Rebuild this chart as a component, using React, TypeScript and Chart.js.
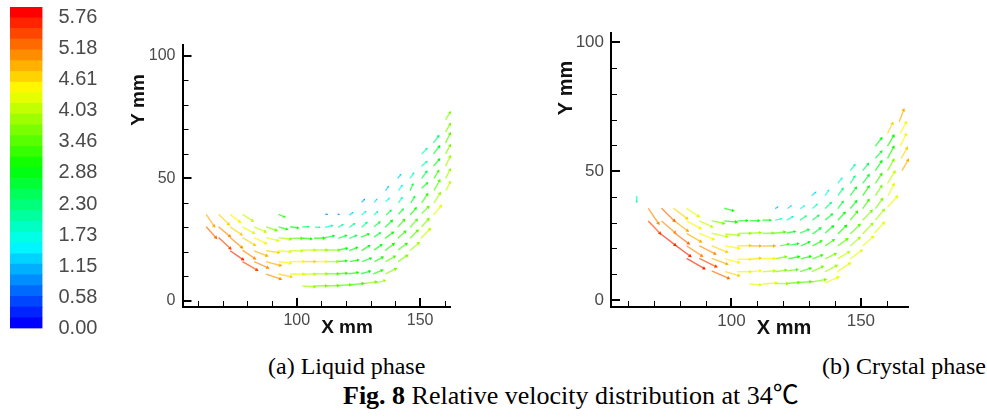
import React, { useEffect, useRef } from "react";
import { Chart, registerables } from "chart.js";

Chart.register(...registerables);

const BAND_COLORS = [
  "#0000ff", "#0023ff", "#0046ff", "#006aff", "#008dff", "#00b0ff", "#00d3ff", "#00f6ff", "#00ffe5", "#00ffc2",
  "#00ff9e", "#00ff7b", "#00ff58", "#00ff35", "#00ff12", "#12ff00", "#35ff00", "#58ff00", "#7bff00", "#9eff00",
  "#c2ff00", "#e5ff00", "#fff600", "#ffd300", "#ffb000", "#ff8d00", "#ff6a00", "#ff4600", "#ff2300", "#ff0000",
];
const LEGEND_TICKS = [0, 0.576, 1.152, 1.728, 2.304, 2.88, 3.456, 4.032, 4.608, 5.184, 5.76];
const LEGEND_LABELS = ["0.00", "0.58", "1.15", "1.73", "2.30", "2.88", "3.46", "4.03", "4.61", "5.18", "5.76"];
const LEGEND_MAX = 5.95;

const X_TICKS = [60, 70, 80, 90, 100, 110, 120, 130, 140, 150, 160];
const Y_TICKS = [0, 10, 20, 30, 40, 50, 60, 70, 80, 90, 100];

// [x, y, dx, dy, magnitude]
type Arrow = [number, number, number, number, number];
const liquidArrows: Arrow[] = [
  [63.3, 35.3, 3.2, -4.8, 4.9], [63.3, 30.2, 3.9, -4.4, 5.3], [68.3, 35.3, 4.1, -4, 4.7], [68.3, 30.2, 4.5, -3.8, 5],
  [68.3, 25.8, 4.7, -4.4, 5.4], [73, 35.3, 3.8, -3, 4.4], [73, 30.2, 4.5, -3.1, 4.7], [73, 25.8, 4.7, -4, 5],
  [73, 20.4, 5.1, -3.5, 5.7], [78, 35.3, 4, -2.6, 4.1], [78, 30.2, 4.5, -2.5, 4.3], [78, 25.8, 4.9, -3, 4.7],
  [78, 20.7, 4.9, -3.4, 5], [78, 16, 5.8, -3.4, 5.5], [82.7, 30.2, 4.5, -2, 4.1], [82.7, 25.8, 4.7, -2.3, 4.5],
  [82.7, 20.4, 5.1, -2, 4.8], [82.7, 16, 5.5, -2.5, 5.1], [87.6, 30.2, 4, -1.4, 3.7], [87.6, 25.8, 4.7, -1.2, 4.2],
  [87.6, 20.4, 5, -0.7, 4.6], [87.6, 16, 5.7, -1.6, 4.8], [87.6, 10.9, 5.7, -2, 5.1], [92.6, 35.3, 2.4, -1, 3],
  [92.6, 30.2, 3.4, -1, 3], [92.6, 25.8, 4.7, -0.7, 3.9], [92.6, 20.4, 4.7, -0.4, 4.3], [92.6, 16, 4.7, -0.7, 4.5],
  [92.6, 10.9, 5.1, -1.1, 4.6], [97.3, 30.2, 3.1, -0.4, 2.8], [97.3, 25.5, 4.7, 0, 3.5], [97.3, 20.4, 4.7, 0, 4],
  [97.3, 16, 5.4, 0, 4.5], [97.3, 10.9, 5.4, -0.1, 4.3], [102.3, 30.2, 2.4, 0, 2.4], [102.3, 25.5, 3.5, -0.2, 3],
  [102.3, 20.7, 4.9, 0, 4], [102.3, 16, 4.9, 0, 4.6], [102.3, 10.9, 4.9, 0, 4.1], [102.3, 6, 4.9, -0.3, 3.8],
  [107, 6, 4.9, 0.1, 3.6], [112, 6, 4.7, 0.2, 3.5], [117, 6.2, 4.7, 0.3, 3.4], [122, 6.5, 4.7, 0.5, 3.3],
  [127, 7, 5, 0.7, 3.6], [132, 7.2, 3.5, 1, 3.9],
  [107, 11, 5, 0, 3.8], [112, 11, 4.7, 0, 3.4], [116, 11, 4.1, 0.2, 3.2], [121, 11, 3.6, 0.5, 3],
  [126, 11, 3.5, 1, 2.9], [131, 11, 3.5, 1.4, 3.1], [136, 11, 4, 2, 3.6],
  [107, 16, 4.9, 0, 4.5], [112, 16, 4.5, 0, 3.8], [116.5, 16, 3.5, 0.3, 3.1], [121.5, 16, 3.3, 0.6, 3],
  [126.5, 16, 3.4, 1.3, 2.9], [131.5, 16, 3.2, 1.7, 3], [136, 16, 3.6, 2, 3.4], [141, 16, 3.6, 2.4, 3.7],
  [107, 20.7, 5, 0, 3.9], [112, 20.7, 5, 0, 3.6], [116.8, 20.7, 3.4, 0.7, 2.9], [121.3, 20.5, 3, 1.2, 2.8],
  [126.3, 20.5, 3, 1.9, 2.8], [131.3, 20.7, 2.9, 2, 2.9], [135.8, 20.5, 3.4, 2.6, 3], [141, 20.7, 3.4, 2.5, 3.3],
  [145.9, 20.5, 3.4, 3, 3.8],
  [107, 25.5, 4, 0.1, 3], [111.5, 25.8, 3.4, 0.7, 2.7], [116.8, 25.5, 3.1, 1.1, 2.6], [121.3, 25.5, 2.7, 1.1, 2.4],
  [126, 26, 3, 1.2, 2.8], [131.3, 26, 2.4, 1.6, 2.7], [135.8, 25.5, 3.1, 2.3, 3], [140.9, 25.5, 3, 2.7, 3.2],
  [145.9, 25.5, 3, 3.1, 3.5], [150.3, 25.5, 3.6, 3.7, 4],
  [107.4, 30, 1.8, 0, 2.1], [111.5, 30, 2.7, 0.7, 1.9], [116.8, 30, 1.8, 1.1, 2], [121.3, 30, 2, 1.4, 2],
  [126.3, 30, 2, 1.9, 2.2], [131.3, 30.2, 2.2, 1.8, 2.6], [135.8, 30, 2.7, 2.6, 2.8], [140.9, 30, 2.6, 3, 3.2],
  [145.9, 30, 2.7, 3, 3.4], [150.6, 30.2, 2.7, 3.1, 3.7],
  [111.5, 35.3, 0.9, 0, 0.9], [116.6, 35.3, 0.6, 0, 0.7], [121.3, 35, 1.4, 1, 1.2], [126.3, 35, 1.6, 1.4, 1.6],
  [131.3, 35, 1.4, 1.4, 1.8], [136.2, 35, 1.9, 1.8, 2.4], [141.2, 35.3, 1.8, 2, 2.7], [145.9, 35, 2.3, 2.7, 3],
  [150.6, 35.6, 2.7, 2.7, 3.4], [155.4, 35, 3, 3.7, 4.2],
  [126.3, 40.2, 1.1, 1.2, 1.1], [131.4, 40.2, 1, 1.2, 1.2], [136, 40.4, 1.4, 1.4, 1.4], [141.2, 40, 1.4, 2, 2],
  [146.2, 40, 1.5, 2.4, 2.6], [150.6, 40, 2.3, 3.4, 3.2], [155.6, 40, 2.4, 3.8, 3.8],
  [136, 45, 1.1, 1.6, 1.2], [141.2, 45, 1.4, 2, 1.6], [145.9, 45, 1.1, 2.5, 2.6], [150.6, 46, 2.2, 2, 2.9],
  [155.6, 45, 2.2, 4, 3.4], [160.5, 45, 1.6, 3.4, 4],
  [140.9, 50, 1.2, 1.5, 1.3], [145.9, 50, 1.4, 2, 1.8], [150.6, 50, 2, 2.7, 2.5], [155.6, 50, 1.8, 3, 3.2],
  [160.3, 50, 1.8, 3.5, 3.9],
  [150.6, 55, 2, 1.8, 2], [155.4, 55, 2.3, 2.7, 2.9], [160.3, 55, 1.8, 3.8, 3.8],
  [150.6, 60, 2, 2, 1.8], [155.4, 60, 2.3, 3, 2.6], [160.3, 60, 1.8, 3.4, 3.7],
  [155.4, 64.5, 2, 2.7, 2.3], [160.3, 64.5, 1.8, 3.7, 3.5], [160.3, 69, 1.8, 3.1, 3.6], [160.3, 74, 1.8, 2.9, 3.7],
];

const crystalArrows: Arrow[] = [
  [63.4, 40.4, 0, -2.2, 2], [67.9, 35.6, 3.9, -5.8, 5], [67.9, 30.7, 4.5, -4.8, 5.4], [73, 35.6, 4.9, -4.8, 5.3],
  [73, 30.7, 5.2, -4.5, 5.1], [72.4, 25.9, 5.8, -4.5, 5.6], [77.6, 35.6, 5.2, -3.9, 4.6], [78, 30.7, 5, -3.8, 4.8],
  [78.2, 25.9, 5.2, -3.9, 5.2], [78.2, 21.4, 5.8, -4.3, 5.7], [82.7, 35.6, 4.5, -3, 4.2], [82.7, 30.7, 5.2, -2.8, 4.5],
  [82.7, 25.9, 5.4, -3.2, 4.8], [82.7, 21, 5.8, -3.8, 5.1], [82.7, 16.2, 6.7, -3.9, 5.7], [87.6, 30.7, 4.8, -2.2, 4],
  [87.6, 25.9, 5.4, -2.3, 4.5], [87.6, 21, 6, -3, 5], [87.6, 16.2, 6.4, -3.2, 5.4], [92.4, 30.7, 4.5, -0.9, 3.6],
  [92.4, 25.9, 5.8, -1.3, 4.1], [92.4, 21, 5.8, -2.3, 4.7], [92.4, 16.2, 5.8, -2.2, 4.9], [92.4, 11.3, 6.4, -2.8, 5.2],
  [97.2, 35.6, 3.4, -0.9, 3], [97.2, 30.7, 4.6, -0.4, 3], [97.6, 25.6, 5.2, -0.4, 3.8], [97.6, 21, 5.2, -0.9, 4.4],
  [97.6, 16, 5.2, -1.4, 4.4], [97.6, 11, 5.2, -1.5, 4.7], [102.3, 30.7, 3.6, 0.1, 2.9], [102.7, 25.9, 4.5, 0, 3.8],
  [102.3, 21, 4.9, 0.1, 4.6], [102.3, 15.8, 4.9, 0, 4.4], [102.3, 11, 4.9, 0, 4.2], [107, 30.8, 3.5, 0, 2.8],
  [107.2, 25.9, 3.9, 0.2, 3.9], [107.2, 21, 3.9, 0, 4.9], [107.2, 15.8, 3.9, 0.4, 4.6], [107.2, 11, 3.9, 0.3, 4.4],
  [107, 6.2, 4.1, -0.3, 4.3],
  [112, 6.2, 5.2, 0.4, 4.3], [117, 6.4, 4.5, 0, 3.8], [121.4, 6.4, 4.5, 0.4, 3.5], [126, 6.8, 4.5, 0.3, 3.4],
  [131, 7, 5.2, 0.9, 3.6], [136.2, 6.7, 4.9, 2.1, 4.2],
  [112, 11, 4.5, 0.3, 4], [117, 11, 3.9, 0.6, 3.7], [121.4, 11.3, 3.9, 0.5, 3.4], [126.5, 11, 3.9, 1.3, 3.3],
  [131, 11, 4.1, 1.9, 3.6], [136.2, 11, 4.3, 2.3, 3.9], [141, 11, 4.6, 3.2, 4.3],
  [112, 16, 4.5, 0.1, 4.4], [117, 16, 3.9, 0.8, 3.6], [122, 16, 3.9, 0.8, 3], [126.8, 16, 3.6, 0.9, 3],
  [131.3, 16, 3.6, 1.4, 3.3], [136.2, 16, 3.9, 1.9, 3.6], [141, 16, 4.3, 2.6, 4], [145.9, 16, 4.3, 3.2, 4.3],
  [112, 21, 4.5, 0, 4.9], [118.8, 21, 3.2, 0.7, 3.2], [122.7, 21.3, 3, 0.6, 2.9], [126.8, 21, 3.2, 1.5, 2.9],
  [131.3, 21, 3.3, 1.8, 3], [136.2, 21, 3.2, 2.2, 3.2], [141.1, 21, 3.5, 2.6, 3.5], [145.9, 21, 3.5, 3.1, 3.8],
  [150.7, 21, 3.9, 3.5, 4.3],
  [112, 25.8, 3.9, 0.2, 3.7], [116, 25.8, 4.5, 0.6, 3.4], [121.4, 26, 3, 0.6, 2.8], [126.5, 26, 3.2, 1.3, 2.6],
  [131.3, 25.6, 3, 2.2, 2.7], [136.2, 26, 3, 2.6, 2.8], [141.1, 25.6, 3.1, 3.1, 3.1], [145.9, 25.6, 3.5, 3.5, 3.4],
  [150.7, 25.6, 3.6, 3.9, 3.8], [155.3, 26, 3.5, 3.9, 4.3],
  [112, 31, 3, 0, 2.8], [116.9, 31, 2.3, 0.5, 1.9], [121.4, 31, 2.2, 1.3, 1.9], [126.5, 31, 2.2, 1.5, 2.2],
  [131.3, 31, 2.3, 1.8, 2.5], [136.2, 31, 2.6, 2.2, 2.7], [141.1, 31, 2.6, 2.8, 2.9], [145.9, 31, 2.6, 3.2, 3.2],
  [150.7, 31, 3.4, 3.5, 3.6], [155.6, 31, 3.2, 3.9, 3.9],
  [116.9, 35.5, 1, 0.6, 1], [121.7, 35.5, 1.3, 1, 1.3], [126.6, 35.5, 1.5, 1, 1.6], [131.3, 35.5, 1.7, 1.6, 1.9],
  [136.2, 35.5, 2.2, 2.2, 2.3], [141.1, 35.5, 1.9, 2.6, 2.6], [145.9, 35.5, 2.3, 2.8, 2.9], [150.7, 35.5, 2.3, 3.2, 3.2],
  [155.6, 35.5, 2.6, 3.6, 3.7], [160.3, 36, 3.6, 4.1, 4.3],
  [131, 40.5, 1.5, 1.3, 1.3], [136.2, 40.5, 1.3, 2, 1.7], [141.1, 40.5, 1.9, 2.6, 2.3], [145.9, 40.5, 2.2, 3, 2.7],
  [150.7, 40.5, 2.3, 3.4, 3.1], [155.6, 40.5, 2.3, 3.6, 3.6], [160.5, 40.5, 2.2, 4.3, 4.2],
  [141.1, 45.3, 1.5, 1.9, 1.7], [145.9, 45.3, 1.7, 2.6, 2.2], [150.7, 45.3, 2.3, 3.1, 2.7], [155.6, 45.3, 2.3, 3.5, 3.3],
  [160.3, 45.3, 2.7, 4.4, 4.1],
  [145.9, 50.2, 1.7, 2.2, 2], [150.7, 50.2, 2.1, 2.6, 2.4], [155.6, 50.2, 2.3, 3.5, 2.9], [160.3, 50.2, 2.3, 4.1, 3.6],
  [165.9, 50.2, 2.3, 4.1, 4.9],
  [155.6, 55, 2.3, 2.6, 2.7], [160.3, 55, 2.3, 4.3, 3.1], [165.6, 55, 2.2, 3.9, 4.6],
  [155.6, 59.7, 2.3, 3, 2.8], [160.3, 59.7, 2.3, 4, 3.1], [165.2, 59.7, 2.2, 4.5, 4.5],
  [160.3, 64.6, 1.9, 3.9, 4.7], [165.2, 64.6, 2.2, 4.2, 4.4], [164.8, 69.2, 1.7, 4.5, 4.8],
];

const SANS = "'Liberation Sans', Arial, sans-serif";
const SERIF = "'Liberation Serif', 'Noto Sans CJK SC', serif";

function colorOf(mag: number, alpha: string): string {
  const i = Math.min(BAND_COLORS.length - 1, Math.max(0, Math.floor((mag / LEGEND_MAX) * BAND_COLORS.length)));
  return BAND_COLORS[i] + alpha;
}

function dropScalePadding(s: any) {
  s.paddingTop = 0;
  s.paddingBottom = 0;
  s.paddingLeft = 0;
  s.paddingRight = 0;
  if (s._margins) {
    s._margins.top = 0;
    s._margins.bottom = 0;
    s._margins.left = 0;
    s._margins.right = 0;
  }
}

type PanelCfg = {
  arrows: Arrow[];
  box: { left: number; top: number; right: number; bottom: number; left0: number; top0: number };
  xRange: [number, number];
  yRange: [number, number];
  tickFont: number;
  titleFont: number;
  xTitlePos: [number, number];
  yTitlePos: [number, number];
};

function makePanel(canvas: HTMLCanvasElement, cfg: PanelCfg): Chart {
  const { box } = cfg;
  const inwardTicks = {
    id: "inwardTicks",
    afterDraw(chart: any) {
      const { ctx, scales, chartArea } = chart;
      ctx.save();
      ctx.strokeStyle = "#000";
      for (const t of scales.x.ticks) {
        const major = t.value % 50 === 0;
        const px = Math.round(scales.x.getPixelForValue(t.value));
        ctx.lineWidth = major ? 2 : 1;
        ctx.beginPath();
        ctx.moveTo(px + (major ? 0 : 0.5), chartArea.bottom);
        ctx.lineTo(px + (major ? 0 : 0.5), chartArea.bottom - (major ? 9 : 6));
        ctx.stroke();
      }
      for (const t of scales.y.ticks) {
        const major = t.value % 50 === 0;
        const py = Math.round(scales.y.getPixelForValue(t.value));
        ctx.lineWidth = major ? 2 : 1;
        ctx.beginPath();
        ctx.moveTo(chartArea.left, py + (major ? 0 : 0.5));
        ctx.lineTo(chartArea.left + (major ? 9 : 6), py + (major ? 0 : 0.5));
        ctx.stroke();
      }
      ctx.fillStyle = "#111";
      ctx.font = `bold ${cfg.titleFont}px ${SANS}`;
      ctx.textAlign = "center";
      ctx.textBaseline = "middle";
      ctx.fillText("X mm", cfg.xTitlePos[0] - box.left0, cfg.xTitlePos[1] - box.top0);
      ctx.translate(cfg.yTitlePos[0] - box.left0, cfg.yTitlePos[1] - box.top0);
      ctx.rotate(-Math.PI / 2);
      ctx.fillText("Y mm", 0, 0);
      ctx.restore();
    },
  };
  const datasets = cfg.arrows.map(([x, y, dx, dy, m]) => ({
    data: [{ x, y }, { x: x + dx, y: y + dy }],
    showLine: true,
    borderColor: colorOf(m, "b0"),
    borderWidth: 1.4,
    pointRadius: [0, Math.min(2.2, 0.5 + Math.hypot(dx, dy) * 0.4)],
    pointStyle: "triangle",
    pointRotation: [0, (Math.atan2(dx, dy) * 180) / Math.PI],
    pointBackgroundColor: colorOf(m, "ff"),
    pointBorderWidth: 0,
    clip: false,
  }));
  const tickOpts = {
    color: "#4a4a4a",
    font: { family: SANS, size: cfg.tickFont },
    autoSkip: false,
    maxRotation: 0,
    callback: (v: any) => (Number(v) % 50 === 0 ? String(v) : ""),
  };
  return new Chart(canvas, {
    type: "scatter",
    data: { datasets: datasets as any },
    plugins: [inwardTicks],
    options: {
      animation: false,
      responsive: false,
      plugins: { legend: { display: false }, tooltip: { enabled: false } },
      layout: {
        autoPadding: false,
        padding: { top: box.top, right: box.right, left: 0, bottom: 0 },
      },
      scales: {
        x: {
          type: "linear",
          min: cfg.xRange[0],
          max: cfg.xRange[1],
          grid: { display: false, drawTicks: false },
          border: { display: true, color: "#000", width: 2 },
          ticks: { ...tickOpts, padding: 4 },
          afterBuildTicks: (s: any) => {
            s.ticks = X_TICKS.filter((v) => v <= cfg.xRange[1]).map((value) => ({ value }));
          },
          afterFit: (s: any) => {
            s.height = box.bottom;
            dropScalePadding(s);
          },
        },
        y: {
          type: "linear",
          min: cfg.yRange[0],
          max: cfg.yRange[1],
          grid: { display: false, drawTicks: false },
          border: { display: true, color: "#000", width: 2 },
          ticks: { ...tickOpts, padding: 7 },
          afterBuildTicks: (s: any) => {
            s.ticks = Y_TICKS.map((value) => ({ value }));
          },
          afterFit: (s: any) => {
            s.width = box.left;
            dropScalePadding(s);
          },
        },
      },
    } as any,
  });
}

function makeLegend(canvas: HTMLCanvasElement): Chart {
  const band = LEGEND_MAX / BAND_COLORS.length;
  return new Chart(canvas, {
    type: "bar",
    data: {
      labels: [""],
      datasets: BAND_COLORS.map((c) => ({
        data: [band],
        backgroundColor: c,
        borderWidth: 0,
        stack: "bar",
        barPercentage: 1,
        categoryPercentage: 1,
      })),
    },
    options: {
      animation: false,
      responsive: false,
      plugins: { legend: { display: false }, tooltip: { enabled: false } },
      layout: { autoPadding: false, padding: { left: 10, top: 7, bottom: 11.5, right: 0 } },
      scales: {
        x: { display: false, stacked: true },
        y: {
          position: "right",
          stacked: true,
          min: 0,
          max: LEGEND_MAX,
          grid: { display: false, drawTicks: false },
          border: { display: false },
          ticks: {
            color: "#4a4a4a",
            padding: 16,
            autoSkip: false,
            font: { family: SANS, size: 20 },
            callback: (v: any) => LEGEND_LABELS[LEGEND_TICKS.indexOf(Number(v))] ?? "",
          },
          afterBuildTicks: (s: any) => {
            s.ticks = LEGEND_TICKS.map((value) => ({ value }));
          },
          afterFit: (s: any) => {
            s.width = 77.5;
            dropScalePadding(s);
          },
        },
      },
    } as any,
  });
}

const captionStyle: React.CSSProperties = {
  position: "absolute",
  fontFamily: SERIF,
  color: "#000",
  whiteSpace: "nowrap",
  lineHeight: 1,
};

export default function App() {
  const legendRef = useRef<HTMLCanvasElement>(null);
  const leftRef = useRef<HTMLCanvasElement>(null);
  const rightRef = useRef<HTMLCanvasElement>(null);

  useEffect(() => {
    const charts = [
      makeLegend(legendRef.current!),
      makePanel(leftRef.current!, {
        arrows: liquidArrows,
        box: { left: 62.5, top: 15, right: 10, bottom: 33, left0: 120, top0: 30 },
        xRange: [53.7, 162.1],
        yRange: [-2.57, 104.5],
        tickFont: 16,
        titleFont: 19,
        xTitlePos: [347, 328],
        yTitlePos: [139, 100],
      }),
      makePanel(rightRef.current!, {
        arrows: crystalArrows,
        box: { left: 61, top: 13.3, right: 12, bottom: 33, left0: 550, top0: 20 },
        xRange: [53.5, 168.2],
        yRange: [-2.7, 103.5],
        tickFont: 17,
        titleFont: 20,
        xTitlePos: [784, 328],
        yTitlePos: [566, 88],
      }),
    ];
    return () => charts.forEach((c) => c.destroy());
  }, []);

  return (
    <div style={{ position: "absolute", left: 0, top: 0, width: 987, height: 417, background: "#fff", overflow: "hidden" }}>
      <canvas ref={legendRef} width={120} height={340} style={{ position: "absolute", left: 0, top: 0 }} />
      <canvas ref={leftRef} width={340} height={310} style={{ position: "absolute", left: 120, top: 30 }} />
      <canvas ref={rightRef} width={370} height={320} style={{ position: "absolute", left: 550, top: 20 }} />
      <div style={{ ...captionStyle, left: 268, top: 354, fontSize: 24 }}>(a) Liquid phase</div>
      <div style={{ ...captionStyle, left: 822, top: 354, fontSize: 24 }}>(b) Crystal phase</div>
      <div style={{ ...captionStyle, left: 343, top: 383, fontSize: 26 }}>
        <b>Fig. 8</b> Relative velocity distribution at 34℃
      </div>
    </div>
  );
}
